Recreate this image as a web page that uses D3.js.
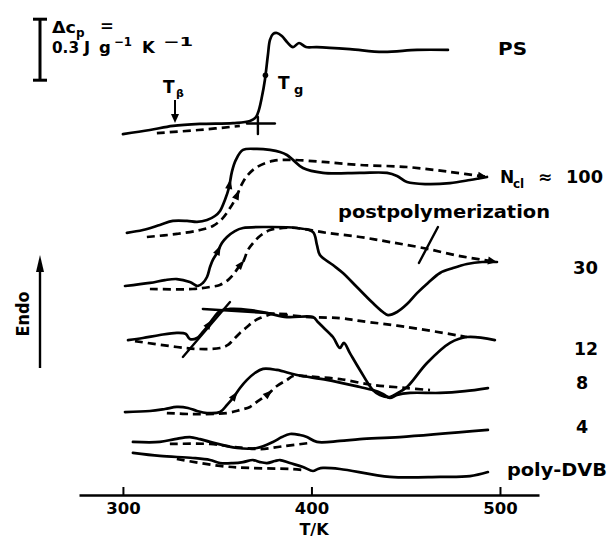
<!DOCTYPE html>
<html>
<head>
<meta charset="utf-8">
<script src="https://cdn.jsdelivr.net/npm/d3@7"></script>
<style>
  html, body { margin: 0; padding: 0; background: #fff; }
  svg text { font-family: "DejaVu Sans", sans-serif; font-weight: bold; fill: #000; }
</style>
</head>
<body>
<svg id="chart" width="610" height="541"></svg>
<script>
// DSC heating traces. T in K; signal in units of 0.01 J g^-1 K^-1,
// each trace shifted vertically so the family stacks from PS down to poly-DVB.

const tickTemps = [300, 400, 500];
const scaleBarSpan = [204, 234];          // 0.3 J g^-1 K^-1

// PS
const ps = [[300,177.5],[314.3,179.5],[326.5,181.5],[340.8,182.5],[358.4,182.9],[367.4,183.9],
  [370.6,185.9],[372.1,189.3],[373.7,195.7],[375.3,204.1],[376.9,216.4],[378,223.8],[379.6,226.7],
  [381.7,227.2],[384.3,225.7],[387,222.8],[390.2,220.3],[393.4,222.3],[397.1,220.3],[402.9,220.3],
  [420.4,219.3],[437.9,217.9],[456,218.9],[472.4,218.9]];
const psGlass = [[318,178.0],[340,179.5],[362,181.5]];
const psOnsetH = [[365.8,182.7],[380.6,182.7]];
const psOnsetV = [[371.6,177.5],[371.6,185.9]];

// N_cl = 100
const n100 = [[302.1,128.9],[310.6,130.3],[319.6,132.8],[326.5,134.8],[334,134.8],[339.3,134.3],
  [344.6,135.2],[348.8,137.2],[351.5,139.7],[354.1,145.1],[356.2,151],[357.8,158.9],[359.9,164.8],
  [363.7,169.7],[371.1,170.2],[378,169.7],[383.3,168.7],[387,167.2],[390.2,164.8],[395.5,160.8],
  [406.1,158.4],[425.7,158.4],[440.1,158.4],[445.4,156.9],[450.7,153.9],[461.3,152.9],[473.5,153.4],
  [484.1,154.9],[493.1,156.4]];
const n100b = [[312.7,126.9],[328.6,128.4],[340.8,130.3],[347.7,132.3],[352.5,135.7],[356.8,141.1],
  [359.9,146.1],[363.1,152.9],[366.3,157.4],[371.1,161.3],[379.6,164.3],[389.7,164.8],[406.1,163.8],
  [425.7,162.3],[450.7,161.3],[473.5,158.9],[493.1,156.4]];

// N_cl = 30
const n30 = [[301.1,102.8],[314.3,104.3],[322.3,105.7],[328.6,106.2],[335.5,104.8],[339.8,102.8],
  [342.4,104.3],[344.6,107.2],[346.2,112.1],[347.7,115.6],[349.9,119],[352.5,123.9],[355.2,126.9],
  [359.4,129.8],[363.7,131.3],[376.4,131.8],[392.3,131.3],[400.8,129.3],[402.9,123],[404.5,118],
  [411.4,113.1],[416.7,109.2],[424.1,102.3],[432.6,94.4],[437.9,90],[440.6,88.5],[445.4,90],
  [450.7,93.9],[456,99.3],[461.8,104.3],[468.2,109.2],[475.1,111.6],[482.5,113.6],[490.5,114.6],[498.4,114.6]];
const n30b = [[314.3,101.3],[337.1,101.3],[346.1,102.3],[351.4,103.3],[355.7,105.7],[358.4,108.2],
  [361,111.6],[363.7,114.6],[366.3,120.5],[369,123.9],[372.7,127.4],[378,130.3],[384.9,131.3],
  [392.3,131.3],[408.2,128.9],[425.7,126.9],[441.6,124.4],[459.2,121.5],[478.8,117.5],[498.4,114.6]];
const n30Cross = [[467.1,131.8],[457,114.1]];

// N_cl = 12
const n12 = [[302.7,76.2],[310.6,77.2],[319.6,78.7],[328.6,79.7],[333.4,79.2],[335.5,76.7],
  [339.3,77.2],[342.4,80.2],[344.6,82.6],[347.7,86.6],[351.5,90.5],[356.8,91.5],[367.4,91],
  [376.4,89.5],[387,87.5],[400.8,87.5],[403.4,85.1],[406.1,82.6],[411.4,77.7],[415.1,72.3],
  [417.2,74.8],[420.4,69.8],[425.7,61.5],[432.6,51.6],[436.3,49.2],[441.6,48.2],[445.9,50.2],
  [450.7,53.1],[461.3,64.9],[473.5,74.8],[482.5,77.7],[497.3,76.2]];
const n12b = [[306.4,75.7],[328.6,72.8],[340.8,71.8],[351.5,72.3],[355.7,73.8],[358.4,76.2],
  [362.1,79.7],[365.8,82.6],[369,85.1],[372.7,87],[379.6,89],[387,89]];
const n12LiquidSolid = [[342.4,91.5],[376.4,89.5]];
const n12Liquid = [[376.4,89.5],[399.2,87.5],[415.1,87],[425.7,85.6],[450.7,82.6],[482.5,77.7]];
const n12Tangent = [[356.8,94.9],[331.8,67.9]];

// N_cl = 8
const n8 = [[301.1,40.8],[314.3,41.3],[322.3,42.3],[328.6,43.3],[334.5,42.8],[339.3,41.3],
  [344.6,40.3],[351.5,40.8],[355.2,44.3],[358.4,47.7],[362.1,52.6],[365.8,56.6],[370,60],
  [374.3,62],[381.7,61.5],[392.3,59],[408.2,56.6],[425.7,53.1],[432.6,51.6],[437.9,49.7],
  [441.6,47.7],[445.4,49.2],[452.3,50.2],[468.2,50.2],[481.4,51.1],[493.6,52.6]];
const n8b = [[323.3,40.3],[337.1,39.8],[355.2,40.3],[362.1,41.8],[367.4,43.3],[371.6,46.2],
  [376.4,49.2],[381.7,53.6],[387,56.6],[390.2,58.5],[396.6,58.5],[403,58],[415.1,57],
  [432.6,54.1],[450.7,52.6],[462.9,51.6]];

// N_cl = 4
const n4 = [[305.3,26.1],[319.6,26.1],[327.6,27.5],[335.5,28.5],[340.8,27.5],[346.2,26.1],
  [360.5,23.1],[371.1,23.1],[379.6,26.1],[384.3,28.5],[388.6,30],[393.9,29.5],[397.6,28.5],
  [402.9,26.1],[415.1,26.6],[425.7,27.5],[446.9,28.5],[493.6,32]];
const n4b = [[324.9,25.1],[346.2,25.1],[359.4,23.6],[372.7,22.6],[385.9,24.1],[399.2,25.6]];

// poly-DVB
const dvb = [[305.3,20.7],[319.6,19.2],[337.1,18.2],[346.2,17.2],[351.5,15.7],[358.4,15.7],
  [363.7,16.2],[369,17.2],[372.7,16.2],[376.4,15.7],[380.6,16.7],[383.3,17.2],[388.6,15.7],
  [395.5,13.8],[400.8,11.8],[403.4,12.8],[406.1,13.3],[415.1,12.8],[441.6,8.9],[468.2,8.9],
  [484.1,9.3],[493.6,11.3]];
const dvbb = [[328.6,17.7],[351.5,14.3],[367.4,13.3],[388.6,12.8],[395.5,12.3]];

// scan-direction arrowheads placed on the traces (by temperature)
const scanMarks = [
  { trace: n100, T: 356.5 }, { trace: n100b, T: 360.5 },
  { trace: n30, T: 350.5 },  { trace: n30b, T: 362.5 },
  { trace: n12, T: 345.5 },
  { trace: n8, T: 359 },     { trace: n8b, T: 377 }
];
const psTgDot = 375.6;

const svg = d3.select("#chart");
const x = d3.scaleLinear().domain([276.7, 520.7]).range([79, 539]);
const y = d3.scaleLinear().domain([0, 30]).range([495, 434]);

const smooth = d3.line().x(d => x(d[0])).y(d => y(d[1])).curve(d3.curveCatmullRom.alpha(0.5));
const straight = d3.line().x(d => x(d[0])).y(d => y(d[1]));

const LW = 2.7;
const curves = svg.append("g").attr("fill", "none").attr("stroke", "#000")
  .attr("stroke-linecap", "round").attr("stroke-linejoin", "round");

[ps, n100, n30, n12, n8, n4, dvb].forEach(d =>
  curves.append("path").attr("d", smooth(d)).attr("stroke-width", LW));
[psGlass, n100b, n30b, n12b, n12Liquid, n8b, n4b, dvbb].forEach(d =>
  curves.append("path").attr("d", smooth(d)).attr("stroke-width", LW)
    .attr("stroke-dasharray", "8,5").attr("stroke-linecap", "butt"));
[psOnsetH, psOnsetV, n12LiquidSolid, n12Tangent, n30Cross].forEach(d =>
  curves.append("path").attr("d", straight(d)).attr("stroke-width", 2.4));

// point and direction on a trace at temperature T
function along(trace, T) {
  let i = d3.bisector(d => d[0]).right(trace, T) - 1;
  i = Math.max(0, Math.min(trace.length - 2, i));
  const a = trace[i], b = trace[i + 1];
  const t = (T - a[0]) / (b[0] - a[0]);
  const px = x(a[0]) + t * (x(b[0]) - x(a[0]));
  const py = y(a[1]) + t * (y(b[1]) - y(a[1]));
  const ang = Math.atan2(y(b[1]) - y(a[1]), x(b[0]) - x(a[0])) * 180 / Math.PI;
  return [px, py, ang];
}
const head = "M6,0 L-4,-3.6 L-4,3.6 Z";
scanMarks.forEach(m => {
  const [px, py, ang] = along(m.trace, m.T);
  svg.append("path").attr("d", head).attr("fill", "#000")
    .attr("transform", `translate(${px},${py}) rotate(${ang})`);
});
{
  const [px, py] = along(ps, psTgDot);
  svg.append("circle").attr("cx", px).attr("cy", py).attr("r", 2.8).attr("fill", "#000");
}
// arrow tips where the reheating traces end
[n100b, n30b].forEach(d => {
  const [px, py, ang] = along(d, d[d.length - 1][0] - 0.01);
  svg.append("path").attr("d", "M0,0 L-9,-4 L-9,4 Z").attr("fill", "#000")
    .attr("transform", `translate(${px},${py}) rotate(${ang})`);
});

// temperature axis
const axis = d3.axisBottom(x).tickValues(tickTemps).tickSizeInner(-8).tickSizeOuter(0)
  .tickPadding(7).tickFormat(d3.format("d"));
const ag = svg.append("g").attr("transform", "translate(0,495)").call(axis);
ag.select(".domain").attr("stroke", "#000").attr("stroke-width", 2.6);
ag.selectAll(".tick line").attr("stroke", "#000").attr("stroke-width", 2);
ag.selectAll(".tick text").attr("fill", "#000")
  .style("font-family", "'DejaVu Sans', sans-serif").style("font-weight", "bold").style("font-size", "16.5px");
svg.append("text").attr("x", 314).attr("y", 535).attr("text-anchor", "middle")
  .style("font-size", "16px").text("T/K");

// Δcp scale bar
const sb = svg.append("g").attr("stroke", "#000").attr("stroke-width", 3);
sb.append("line").attr("x1", 40).attr("x2", 40).attr("y1", y(scaleBarSpan[0])).attr("y2", y(scaleBarSpan[1]));
sb.append("line").attr("x1", 33).attr("x2", 47).attr("y1", y(scaleBarSpan[1])).attr("y2", y(scaleBarSpan[1]));
sb.append("line").attr("x1", 33).attr("x2", 47).attr("y1", y(scaleBarSpan[0])).attr("y2", y(scaleBarSpan[0]));

function txt(s, px, py, size, extra) {
  const t = svg.append("text").attr("x", px).attr("y", py).style("font-size", size + "px").text(s);
  if (extra && extra.len) t.attr("textLength", extra.len).attr("lengthAdjust", "spacingAndGlyphs");
  if (extra && extra.anchor) t.attr("text-anchor", extra.anchor);
  return t;
}
txt("Δc", 52, 33, 16.5, { len: 24 });
txt("p", 76, 37, 12);
txt("=", 100, 31, 16.5);
txt("0.3", 52, 53, 16.5, { len: 27 });
txt("J", 84, 53, 16.5);
txt("g", 99, 53, 16.5);
txt("−1", 114, 46, 12, { len: 18 });
txt("K", 142, 53, 16.5);
txt("−1", 163, 46, 12, { len: 30 });

// transition labels
txt("T", 163, 93, 17);
txt("β", 176, 97, 11);
svg.append("line").attr("x1", 175).attr("x2", 175).attr("y1", 100).attr("y2", 116)
  .attr("stroke", "#000").attr("stroke-width", 2);
svg.append("path").attr("d", "M171,114 L179,114 L175,123 Z").attr("fill", "#000");
txt("T", 278, 89, 17);
txt("g", 294, 94, 13);

// Endo arrow
svg.append("line").attr("x1", 40).attr("x2", 40).attr("y1", 368).attr("y2", 268)
  .attr("stroke", "#000").attr("stroke-width", 2.4);
svg.append("path").attr("d", "M36,272 L44,272 L40,255 Z").attr("fill", "#000");
svg.append("text").attr("transform", "translate(29,314) rotate(-90)").attr("text-anchor", "middle")
  .style("font-size", "17px").attr("textLength", 45).attr("lengthAdjust", "spacingAndGlyphs").text("Endo");

// trace labels
txt("PS", 498, 55, 17, { len: 29 });
txt("N", 500, 183, 17);
txt("cl", 513, 188, 12);
txt("≈", 538, 183, 17);
txt("100", 566, 183, 17, { len: 37 });
txt("postpolymerization", 338, 218, 18, { len: 212 });
txt("30", 573, 274, 17.5, { len: 25 });
txt("12", 574, 355, 17.5, { len: 24 });
txt("8", 576, 389, 17.5);
txt("4", 576, 433, 17.5);
txt("poly-DVB", 507, 476, 17, { len: 100 });
</script>
</body>
</html>
